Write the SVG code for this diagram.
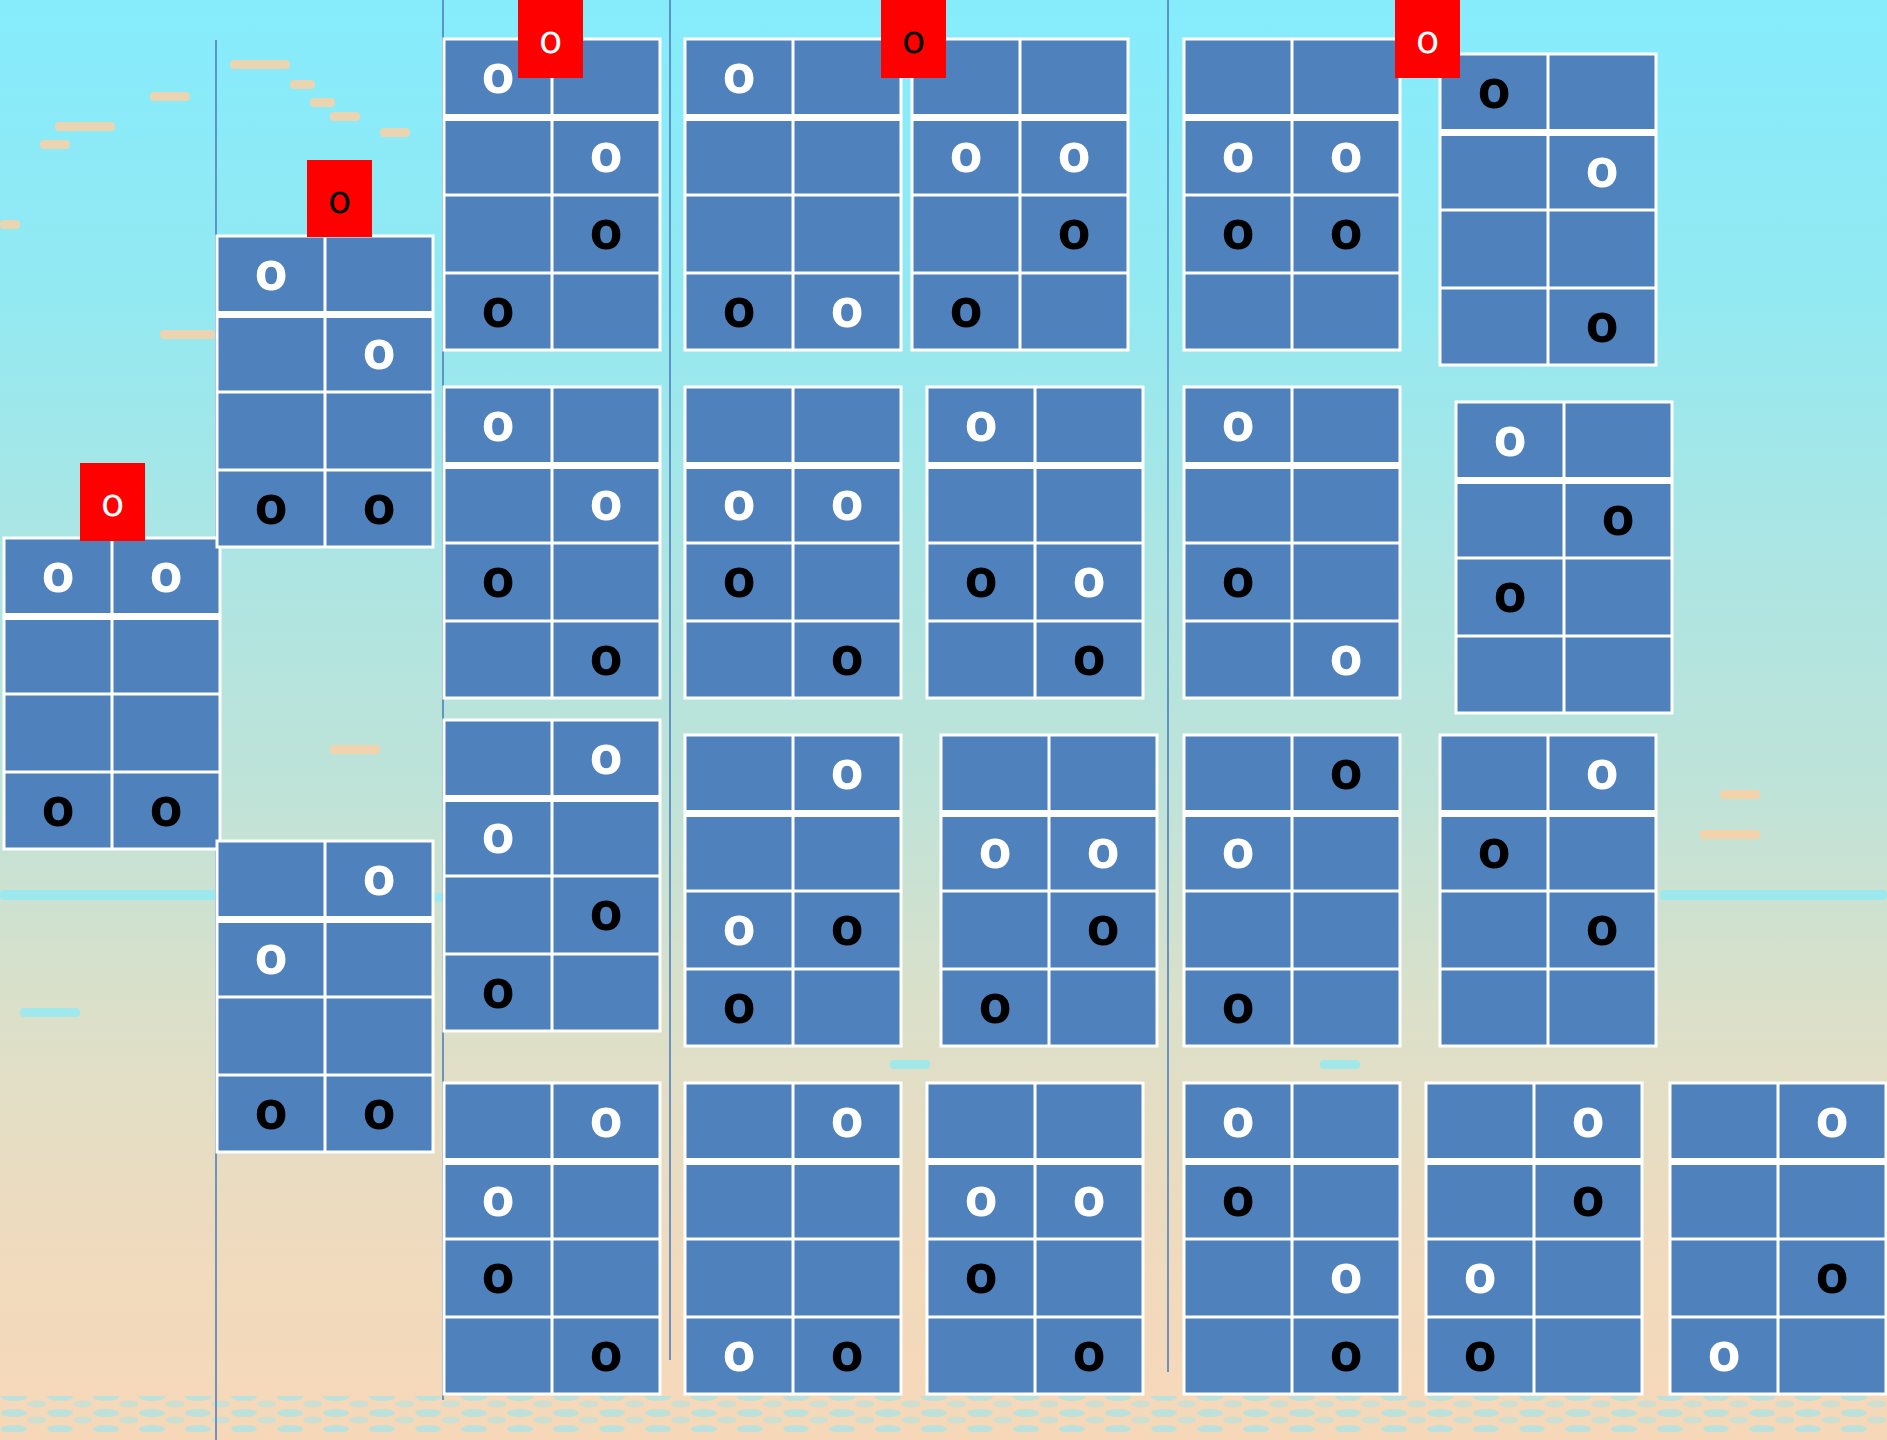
<svg xmlns="http://www.w3.org/2000/svg" xmlns:xlink="http://www.w3.org/1999/xlink" width="1887" height="1440" viewBox="0 0 1887 1440">
<style>
.o{font-family:"Noto Sans","DejaVu Sans",sans-serif;font-weight:bold;font-size:54px;text-anchor:middle}
.w{fill:#ffffff}
.b{fill:#000000}
.lbl{font-family:"DejaVu Sans",Verdana,sans-serif;font-size:38px;text-anchor:middle}
.lblbox{fill:#ff0000}
.vline{stroke:#4f7fbf;stroke-width:1.6;fill:none}
.cy{fill:#86ebfb;opacity:0.7}
.pe{fill:#fbd0a4;opacity:0.85}
</style>
<defs>
<linearGradient id="sky" x1="0" y1="0" x2="0" y2="1">
<stop offset="0" stop-color="#86ecfc"/>
<stop offset="0.2" stop-color="#92e9f2"/>
<stop offset="0.4" stop-color="#aee5e2"/>
<stop offset="0.55" stop-color="#bfe3d8"/>
<stop offset="0.7" stop-color="#dbe0c9"/>
<stop offset="0.88" stop-color="#f1dabd"/>
<stop offset="1" stop-color="#f6d8b8"/>
</linearGradient>
<pattern id="dots" x="0" y="0" width="46" height="16" patternUnits="userSpaceOnUse">
<ellipse cx="14" cy="5" rx="13" ry="4" fill="#8ee8f6" opacity="0.55"/>
<ellipse cx="37" cy="12" rx="10" ry="3.5" fill="#8ee8f6" opacity="0.4"/>
</pattern>
<g id="grid">
<rect x="0" y="0" width="216" height="311" fill="#4f81bd" stroke="#ffffff" stroke-width="3"/>
<line x1="108" y1="0" x2="108" y2="311" stroke="#ffffff" stroke-width="3"/>
<rect x="0" y="75" width="216" height="7" fill="#ffffff"/>
<line x1="0" y1="156" x2="216" y2="156" stroke="#ffffff" stroke-width="3"/>
<line x1="0" y1="234" x2="216" y2="234" stroke="#ffffff" stroke-width="3"/>
</g>
</defs>
<rect x="0" y="0" width="1887" height="1440" fill="url(#sky)"/>
<rect x="0" y="1396" width="1887" height="36" fill="url(#dots)"/>
<g>
<rect class="pe" x="55" y="122" width="60" height="9" rx="4"/>
<rect class="pe" x="150" y="92" width="40" height="9" rx="4"/>
<rect class="pe" x="230" y="60" width="60" height="9" rx="4"/>
<rect class="pe" x="290" y="80" width="25" height="9" rx="4"/>
<rect class="pe" x="310" y="98" width="25" height="9" rx="4"/>
<rect class="pe" x="330" y="112" width="30" height="9" rx="4"/>
<rect class="pe" x="380" y="128" width="30" height="9" rx="4"/>
<rect class="pe" x="40" y="140" width="30" height="9" rx="4"/>
<rect class="pe" x="0" y="220" width="20" height="9" rx="4"/>
<rect class="pe" x="160" y="330" width="55" height="9" rx="4"/>
<rect class="pe" x="330" y="745" width="50" height="9" rx="4"/>
<rect class="cy" x="0" y="890" width="220" height="10" rx="4"/>
<rect class="cy" x="360" y="893" width="90" height="9" rx="4"/>
<rect class="cy" x="1660" y="890" width="227" height="10" rx="4"/>
<rect class="pe" x="1700" y="830" width="60" height="9" rx="4"/>
<rect class="pe" x="1720" y="790" width="40" height="9" rx="4"/>
<rect class="cy" x="20" y="1008" width="60" height="9" rx="4"/>
<rect class="cy" x="890" y="1060" width="40" height="9" rx="4"/>
<rect class="cy" x="1320" y="1060" width="40" height="9" rx="4"/>
</g>

<g id="connectors">
<line class="vline" x1="216" y1="40" x2="216" y2="1440"/>
<line class="vline" x1="443" y1="0" x2="443" y2="1400"/>
<line class="vline" x1="670" y1="0" x2="670" y2="1360"/>
<line class="vline" x1="1168" y1="0" x2="1168" y2="1372"/>
</g>

<g id="A1" transform="translate(4,538)"><use xlink:href="#grid"/>
<text class="o w" x="54" y="54">o</text><text class="o w" x="162" y="54">o</text>
<text class="o b" x="54" y="288">o</text><text class="o b" x="162" y="288">o</text></g>

<g id="B1" transform="translate(217,236)"><use xlink:href="#grid"/>
<text class="o w" x="54" y="54">o</text><text class="o w" x="162" y="133">o</text>
<text class="o b" x="54" y="288">o</text><text class="o b" x="162" y="288">o</text></g>

<g id="B2" transform="translate(217,841)"><use xlink:href="#grid"/>
<text class="o w" x="162" y="54">o</text><text class="o w" x="54" y="133">o</text>
<text class="o b" x="54" y="288">o</text><text class="o b" x="162" y="288">o</text></g>

<g id="C1" transform="translate(444,39)"><use xlink:href="#grid"/>
<text class="o w" x="54" y="54">o</text><text class="o w" x="162" y="133">o</text>
<text class="o b" x="162" y="210">o</text><text class="o b" x="54" y="288">o</text></g>

<g id="C2" transform="translate(444,387)"><use xlink:href="#grid"/>
<text class="o w" x="54" y="54">o</text><text class="o w" x="162" y="133">o</text>
<text class="o b" x="54" y="210">o</text><text class="o b" x="162" y="288">o</text></g>

<g id="C3" transform="translate(444,720)"><use xlink:href="#grid"/>
<text class="o w" x="162" y="54">o</text><text class="o w" x="54" y="133">o</text>
<text class="o b" x="162" y="210">o</text><text class="o b" x="54" y="288">o</text></g>

<g id="C4" transform="translate(444,1083)"><use xlink:href="#grid"/>
<text class="o w" x="162" y="54">o</text><text class="o w" x="54" y="133">o</text>
<text class="o b" x="54" y="210">o</text><text class="o b" x="162" y="288">o</text></g>

<g id="D1" transform="translate(685,39)"><use xlink:href="#grid"/>
<text class="o w" x="54" y="54">o</text>
<text class="o b" x="54" y="288">o</text><text class="o w" x="162" y="288">o</text></g>

<g id="D2" transform="translate(685,387)"><use xlink:href="#grid"/>
<text class="o w" x="54" y="133">o</text><text class="o w" x="162" y="133">o</text>
<text class="o b" x="54" y="210">o</text><text class="o b" x="162" y="288">o</text></g>

<g id="D3" transform="translate(685,735)"><use xlink:href="#grid"/>
<text class="o w" x="162" y="54">o</text>
<text class="o w" x="54" y="210">o</text><text class="o b" x="162" y="210">o</text>
<text class="o b" x="54" y="288">o</text></g>

<g id="D4" transform="translate(685,1083)"><use xlink:href="#grid"/>
<text class="o w" x="162" y="54">o</text>
<text class="o w" x="54" y="288">o</text><text class="o b" x="162" y="288">o</text></g>

<g id="E1" transform="translate(912,39)"><use xlink:href="#grid"/>
<text class="o w" x="54" y="133">o</text><text class="o w" x="162" y="133">o</text>
<text class="o b" x="162" y="210">o</text><text class="o b" x="54" y="288">o</text></g>

<g id="E2" transform="translate(927,387)"><use xlink:href="#grid"/>
<text class="o w" x="54" y="54">o</text>
<text class="o b" x="54" y="210">o</text><text class="o w" x="162" y="210">o</text>
<text class="o b" x="162" y="288">o</text></g>

<g id="E3" transform="translate(941,735)"><use xlink:href="#grid"/>
<text class="o w" x="54" y="133">o</text><text class="o w" x="162" y="133">o</text>
<text class="o b" x="162" y="210">o</text><text class="o b" x="54" y="288">o</text></g>

<g id="E4" transform="translate(927,1083)"><use xlink:href="#grid"/>
<text class="o w" x="54" y="133">o</text><text class="o w" x="162" y="133">o</text>
<text class="o b" x="54" y="210">o</text><text class="o b" x="162" y="288">o</text></g>

<g id="F1" transform="translate(1184,39)"><use xlink:href="#grid"/>
<text class="o w" x="54" y="133">o</text><text class="o w" x="162" y="133">o</text>
<text class="o b" x="54" y="210">o</text><text class="o b" x="162" y="210">o</text></g>

<g id="F2" transform="translate(1184,387)"><use xlink:href="#grid"/>
<text class="o w" x="54" y="54">o</text>
<text class="o b" x="54" y="210">o</text><text class="o w" x="162" y="288">o</text></g>

<g id="F3" transform="translate(1184,735)"><use xlink:href="#grid"/>
<text class="o b" x="162" y="54">o</text><text class="o w" x="54" y="133">o</text>
<text class="o b" x="54" y="288">o</text></g>

<g id="F4" transform="translate(1184,1083)"><use xlink:href="#grid"/>
<text class="o w" x="54" y="54">o</text><text class="o b" x="54" y="133">o</text>
<text class="o w" x="162" y="210">o</text><text class="o b" x="162" y="288">o</text></g>

<g id="G1" transform="translate(1440,54)"><use xlink:href="#grid"/>
<text class="o b" x="54" y="54">o</text><text class="o w" x="162" y="133">o</text>
<text class="o b" x="162" y="288">o</text></g>

<g id="G2" transform="translate(1456,402)"><use xlink:href="#grid"/>
<text class="o w" x="54" y="54">o</text><text class="o b" x="162" y="133">o</text>
<text class="o b" x="54" y="210">o</text></g>

<g id="G3" transform="translate(1440,735)"><use xlink:href="#grid"/>
<text class="o w" x="162" y="54">o</text><text class="o b" x="54" y="133">o</text>
<text class="o b" x="162" y="210">o</text></g>

<g id="G4" transform="translate(1426,1083)"><use xlink:href="#grid"/>
<text class="o w" x="162" y="54">o</text><text class="o b" x="162" y="133">o</text>
<text class="o w" x="54" y="210">o</text><text class="o b" x="54" y="288">o</text></g>

<g id="H4" transform="translate(1670,1083)"><use xlink:href="#grid"/>
<text class="o w" x="162" y="54">o</text>
<text class="o b" x="162" y="210">o</text><text class="o w" x="54" y="288">o</text></g>

<g id="L1"><rect class="lblbox" x="80" y="463" width="65" height="78"/><text class="lbl w" x="112.5" y="516">o</text></g>
<g id="L2"><rect class="lblbox" x="307" y="160" width="65" height="77"/><text class="lbl b" x="339.5" y="213">o</text></g>
<g id="L3"><rect class="lblbox" x="518" y="0" width="65" height="78"/><text class="lbl w" x="550.5" y="53">o</text></g>
<g id="L4"><rect class="lblbox" x="881" y="0" width="65" height="78"/><text class="lbl b" x="913.5" y="53">o</text></g>
<g id="L5"><rect class="lblbox" x="1395" y="0" width="65" height="78"/><text class="lbl w" x="1427.5" y="53">o</text></g>
</svg>
